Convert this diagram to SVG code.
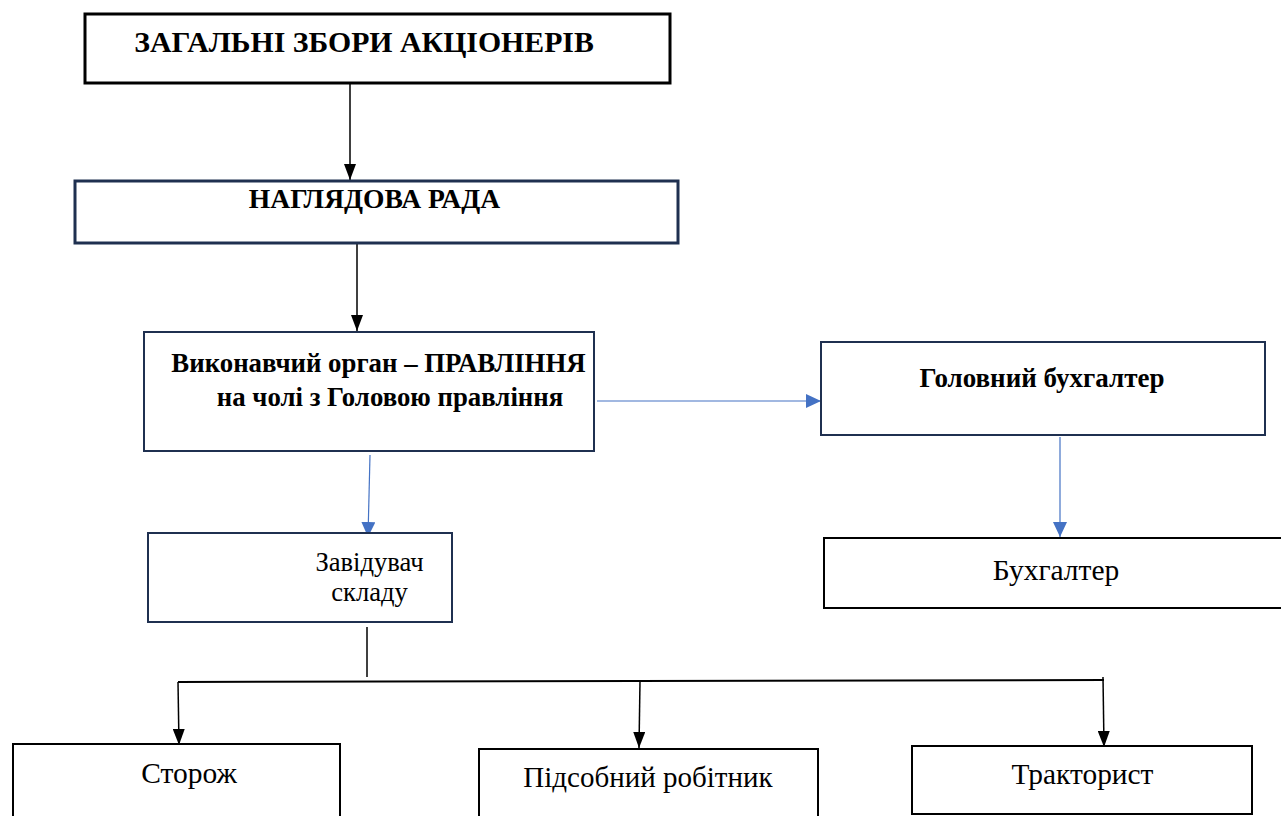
<svg xmlns="http://www.w3.org/2000/svg" width="1281" height="816" viewBox="0 0 1281 816">
<defs>
<marker id="ab" markerWidth="16" markerHeight="12" refX="16" refY="6" orient="auto" markerUnits="userSpaceOnUse"><path d="M0,0 L16,6 L0,12 Z" fill="#000"/></marker>
<marker id="bl" markerWidth="15" markerHeight="14" refX="15" refY="7" orient="auto" markerUnits="userSpaceOnUse"><path d="M0,0 L15,7 L0,14 Z" fill="#4472c4"/></marker>
</defs>
<style>
.t{font-family:"Liberation Serif","Times New Roman",serif;fill:#000;text-anchor:middle}
.b{font-weight:bold}
.navy{fill:#fff;stroke:#1f3050}
.blk{fill:#fff;stroke:#000}
.c{stroke:#000;stroke-width:1.5;fill:none}
.cb{stroke:#4472c4;stroke-width:1.2;fill:none}
</style>
<rect width="1281" height="816" fill="#fff"/>
<g id="connectors">
<line class="c" x1="350" y1="84" x2="350" y2="180" marker-end="url(#ab)"/>
<line class="c" x1="357" y1="244" x2="357" y2="331" marker-end="url(#ab)"/>
<line class="cb" x1="597" y1="401" x2="821" y2="401" marker-end="url(#bl)"/>
<line class="cb" x1="370" y1="455" x2="368" y2="537" marker-end="url(#bl)"/>
<line class="cb" x1="1060" y1="437" x2="1060" y2="537" marker-end="url(#bl)"/>
<line class="c" x1="367" y1="627" x2="367" y2="677"/>
<line class="c" x1="178" y1="682" x2="1104" y2="680" style="stroke-width:2"/>
<line class="c" x1="178" y1="682" x2="179" y2="745" marker-end="url(#ab)"/>
<line class="c" x1="640" y1="681" x2="639" y2="748" marker-end="url(#ab)"/>
<line class="c" x1="1103" y1="677" x2="1104" y2="747" marker-end="url(#ab)"/>
</g>
<g id="n1"><rect class="blk" x="85" y="14" width="585" height="69" stroke-width="3"/>
<text class="t b" x="364" y="52" font-size="29.8">ЗАГАЛЬНІ ЗБОРИ АКЦІОНЕРІВ</text></g>
<g id="n2"><rect class="navy" x="75" y="181" width="603" height="62" stroke-width="3"/>
<text class="t b" x="374.5" y="208" font-size="27.6">НАГЛЯДОВА РАДА</text></g>
<g id="n3"><rect class="navy" x="144" y="332" width="450" height="119" stroke-width="2"/>
<text class="t b" x="378.5" y="372" font-size="26.8">Виконавчий орган – ПРАВЛІННЯ</text>
<text class="t b" x="390" y="406" font-size="26.8">на чолі з Головою правління</text></g>
<g id="n4"><rect class="navy" x="821" y="342" width="444" height="93" stroke-width="2"/>
<text class="t b" x="1042" y="387" font-size="27">Головний бухгалтер</text></g>
<g id="n5"><rect class="navy" x="148" y="533" width="304" height="89" stroke-width="2"/>
<text class="t" x="369.5" y="571" font-size="26.6">Завідувач</text>
<text class="t" x="369.5" y="601" font-size="26.6">складу</text></g>
<g id="n6"><rect class="blk" x="824" y="538" width="460" height="70" stroke-width="2"/>
<text class="t" x="1056" y="580" font-size="29.5">Бухгалтер</text></g>
<g id="n7"><rect class="blk" x="13" y="744" width="327" height="80" stroke-width="2"/>
<text class="t" x="189" y="783" font-size="29.5">Сторож</text></g>
<g id="n8"><rect class="blk" x="479" y="749" width="339" height="80" stroke-width="2"/>
<text class="t" x="648" y="787" font-size="29">Підсобний робітник</text></g>
<g id="n9"><rect class="blk" x="912" y="746" width="340" height="68" stroke-width="2"/>
<text class="t" x="1082.5" y="784" font-size="29.4">Тракторист</text></g>
</svg>
